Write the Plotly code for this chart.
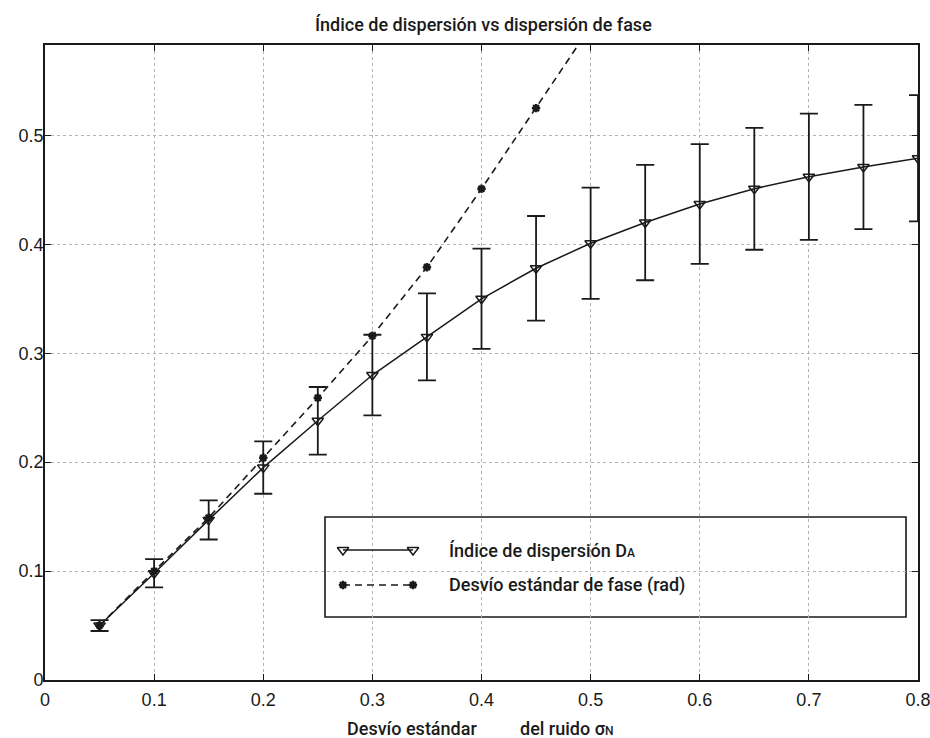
import plotly.graph_objects as go

# ---------------- data ----------------
x_vals = [0.05, 0.10, 0.15, 0.20, 0.25, 0.30, 0.35, 0.40,
          0.45, 0.50, 0.55, 0.60, 0.65, 0.70, 0.75, 0.80]
indice_da = [0.050, 0.098, 0.147, 0.195, 0.238, 0.280, 0.315, 0.350,
             0.378, 0.401, 0.420, 0.437, 0.451, 0.462, 0.471, 0.479]
indice_err = [0.005, 0.013, 0.018, 0.024, 0.031, 0.037, 0.040, 0.046,
              0.048, 0.051, 0.053, 0.055, 0.056, 0.058, 0.057, 0.058]
fase_x = [0.05, 0.10, 0.15, 0.20, 0.25, 0.30, 0.35, 0.40, 0.45, 0.50]
fase_std = [0.050, 0.100, 0.149, 0.204, 0.259, 0.316, 0.379, 0.451, 0.525, 0.600]

x_ticks = [0, 0.1, 0.2, 0.3, 0.4, 0.5, 0.6, 0.7, 0.8]
x_ticklabels = ["0", "0.1", "0.2", "0.3", "0.4", "0.5", "0.6", "0.7", "0.8"]
y_ticks = [0, 0.1, 0.2, 0.3, 0.4, 0.5]
y_ticklabels = ["0", "0.1", "0.2", "0.3", "0.4", "0.5"]

title_text = "Índice de dispersión vs dispersión de fase"
legend_1 = "Índice de dispersión D<span style='font-size:12px'>A</span>"
legend_2 = "Desvío estándar de fase (rad)"
xlabel_a = "Desvío estándar"
xlabel_b = "del ruido σ<span style='font-size:12px'>N</span>"

# ---------------- layout constants (pixels) ----------------
W, H = 930, 738
L, R, T, B = 45, 918, 45, 680
INK = "#1a1a1a"
NARROW = "Roboto, 'Open Sans', sans-serif"
TICKFONT = "Liberation Sans, Arial, sans-serif"


def px(xp):
    return (xp - L) / (R - L)


def py(yp):
    return (B - yp) / (B - T)


fig = go.Figure()

fig.add_trace(go.Scatter(
    x=fase_x, y=fase_std, mode="lines+markers",
    line=dict(color=INK, width=1.6, dash="7px,5px"),
    marker=dict(symbol="asterisk-open", size=7, color=INK,
                line=dict(color=INK, width=2.4)),
    showlegend=False,
))

fig.add_trace(go.Scatter(
    x=x_vals, y=indice_da, mode="lines+markers",
    line=dict(color=INK, width=1.5),
    marker=dict(symbol="triangle-down-open", size=10, color=INK,
                line=dict(color=INK, width=1.5)),
    error_y=dict(type="data", array=indice_err, visible=True,
                 color=INK, thickness=1.8, width=9),
    showlegend=False,
))

# ---------------- legend (drawn manually, MATLAB style) ----------------
leg_x0, leg_x1, leg_y0, leg_y1 = 325, 906, 517, 617
row1, row2 = 550, 585
samp0, samp1 = 343, 413
text_x = 447

fig.add_shape(type="rect", xref="paper", yref="paper",
              x0=px(leg_x0), x1=px(leg_x1), y0=py(leg_y1), y1=py(leg_y0),
              line=dict(color=INK, width=1.6), fillcolor="white", layer="between")
fig.add_shape(type="line", xref="paper", yref="paper",
              x0=px(samp0), x1=px(samp1), y0=py(row1), y1=py(row1),
              line=dict(color=INK, width=1.5), layer="above")
fig.add_shape(type="line", xref="paper", yref="paper",
              x0=px(samp0), x1=px(samp1), y0=py(row2), y1=py(row2),
              line=dict(color=INK, width=1.6, dash="7px,5px"), layer="above")

# legend sample markers on an overlay axis in pixel units
fig.add_trace(go.Scatter(
    x=[samp0, samp1], y=[row1, row1], mode="markers", xaxis="x2", yaxis="y2",
    marker=dict(symbol="triangle-down-open", size=10, color=INK,
                line=dict(color=INK, width=1.5)),
    showlegend=False, hoverinfo="skip", cliponaxis=False,
))
fig.add_trace(go.Scatter(
    x=[samp0, samp1], y=[row2, row2], mode="markers", xaxis="x2", yaxis="y2",
    marker=dict(symbol="asterisk-open", size=7, color=INK,
                line=dict(color=INK, width=2.4)),
    showlegend=False, hoverinfo="skip", cliponaxis=False,
))

fig.add_annotation(x=px(text_x), y=py(row1), xref="paper", yref="paper",
                   text=legend_1, showarrow=False, xanchor="left", yanchor="middle",
                   font=dict(family=NARROW, size=18, color=INK, weight=500))
fig.add_annotation(x=px(text_x), y=py(row2), xref="paper", yref="paper",
                   text=legend_2, showarrow=False, xanchor="left", yanchor="middle",
                   font=dict(family=NARROW, size=18, color=INK, weight=500))

# x-axis title in two parts (gap as in the original)
fig.add_annotation(x=px(345), y=py(728), xref="paper", yref="paper",
                   text=xlabel_a, showarrow=False, xanchor="left", yanchor="middle",
                   font=dict(family=NARROW, size=18, color=INK, weight=500))
fig.add_annotation(x=px(518), y=py(728), xref="paper", yref="paper",
                   text=xlabel_b, showarrow=False, xanchor="left", yanchor="middle",
                   font=dict(family=NARROW, size=18, color=INK, weight=500))

axis_common = dict(
    showline=True, linecolor=INK, linewidth=1.6, mirror="ticks",
    ticks="inside", ticklen=6, tickcolor=INK, tickwidth=1.4,
    showgrid=True, gridcolor="#b4b4b4", griddash="dot", gridwidth=1,
    zeroline=False, ticklabeloverflow="allow",
    tickfont=dict(family=TICKFONT, size=18, color=INK),
)

fig.update_layout(
    width=W, height=H,
    margin=dict(l=L, r=W - R, t=T, b=H - B, autoexpand=False),
    paper_bgcolor="white", plot_bgcolor="white",
    title=dict(text=title_text, x=(L + R) / 2 / W + 0.002, xref="container",
               y=1 - 25 / H, yref="container", xanchor="center", yanchor="middle",
               font=dict(family=NARROW, size=18, color=INK, weight=500)),
    xaxis=dict(range=[0, 0.8], tickvals=x_ticks, ticktext=x_ticklabels,
               ticklabelstandoff=3, **axis_common),
    yaxis=dict(range=[0, 0.583], tickvals=y_ticks, ticktext=y_ticklabels,
               ticklabelstandoff=-4, **axis_common),
    xaxis2=dict(range=[L, R], overlaying="x", visible=False, fixedrange=True),
    yaxis2=dict(range=[B, T], overlaying="y", visible=False, fixedrange=True),
    showlegend=False,
)

fig.write_html("out.html", config={"displayModeBar": False},
               post_script="document.body.style.margin='0';document.body.style.overflow='hidden';")
